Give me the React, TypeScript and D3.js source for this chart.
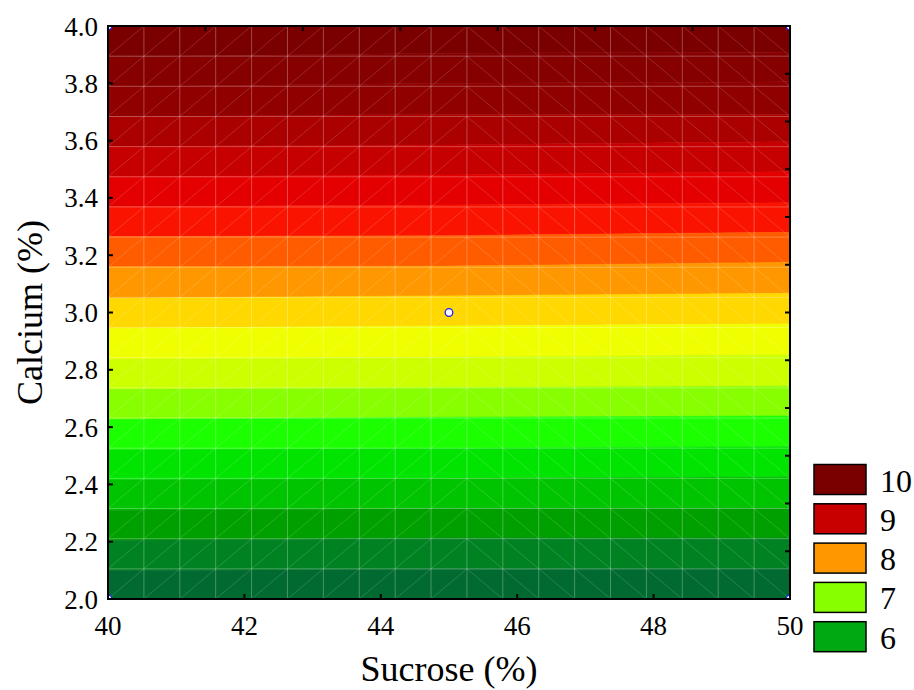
import { useEffect, useRef } from 'react';
import * as d3 from 'd3';

// sucrose positions where band edges were read (left edge, centre, right edge)
const sucroseStations = [40, 45, 50];

// contour band edges (calcium %), top to bottom, read at each station
const edgeAt40 = [3.893, 3.788, 3.683, 3.579, 3.474, 3.369, 3.265, 3.160, 3.050, 2.945, 2.837, 2.732, 2.627, 2.520, 2.415, 2.310, 2.205, 2.099];
const edgeAt45 = [3.905, 3.800, 3.692, 3.585, 3.480, 3.375, 3.268, 3.162, 3.058, 2.953, 2.844, 2.737, 2.634, 2.526, 2.421, 2.316, 2.212, 2.104];
const edgeAt50 = [3.909, 3.805, 3.692, 3.596, 3.491, 3.383, 3.280, 3.175, 3.067, 2.960, 2.852, 2.743, 2.639, 2.532, 2.427, 2.317, 2.212, 2.105];

// band fills, top band first
const bandColors = [
  '#7a0000', '#860000', '#900000', '#aa0000', '#c60000', '#e40000', '#fa1400',
  '#ff5c00', '#ff9800', '#ffd800', '#f0ff00', '#ccff00', '#88ff00', '#1cff00',
  '#00e400', '#00c400', '#00a000', '#008222', '#006a30'
];

const legendLabels = ['10', '9', '8', '7', '6'];
const legendColors = ['#7a0000', '#c80000', '#ff9800', '#88ff00', '#00a812'];

const sucroseTicks = [40, 42, 44, 46, 48, 50];
const calciumTicks = [2.0, 2.2, 2.4, 2.6, 2.8, 3.0, 3.2, 3.4, 3.6, 3.8, 4.0];

// design points
const pointSucrose = [40, 40, 50, 50, 45];
const pointCalcium = [2.0, 4.0, 4.0, 2.0, 3.0];

const App = () => {
  const svgRef = useRef<SVGSVGElement>(null);

  useEffect(() => {
    const root = d3.select(svgRef.current);
    root.selectAll('*').remove();

    const left = 108, right = 790, top = 26, bottom = 599;
    const x = d3.scaleLinear().domain([40, 50]).range([left, right]);
    const y = d3.scaleLinear().domain([2, 4]).range([bottom, top]);
    const font = '"Liberation Serif", "Times New Roman", serif';

    root.append('defs').append('clipPath').attr('id', 'plotClip')
      .append('rect')
      .attr('x', left).attr('y', top)
      .attr('width', right - left).attr('height', bottom - top);

    // band edges including the plot top and bottom
    const edges = [
      sucroseStations.map(() => 4),
      ...edgeAt40.map((_, i) => [edgeAt40[i], edgeAt45[i], edgeAt50[i]]),
      sucroseStations.map(() => 2)
    ];

    const area = d3.area<number>()
      .x(d => x(sucroseStations[d]));

    bandColors.forEach((c, i) => {
      root.append('path')
        .datum(d3.range(sucroseStations.length))
        .attr('d', area.y0(d => y(edges[i + 1][d])).y1(d => y(edges[i][d])))
        .attr('fill', c)
        .attr('stroke', c)
        .attr('stroke-width', 0.6);
    });

    // triangulated mesh overlay
    const cols = 19, rows = 19;
    const gx = d3.scaleLinear().domain([0, cols]).range([left, right]);
    const gy = d3.scaleLinear().domain([0, rows]).range([top, bottom]);
    const mesh = root.append('g').attr('stroke', '#ffffff').attr('fill', 'none');
    for (let i = 1; i < cols; i++) {
      mesh.append('line')
        .attr('x1', gx(i)).attr('x2', gx(i)).attr('y1', top).attr('y2', bottom)
        .attr('stroke-opacity', 0.28);
    }
    for (let j = 1; j < rows; j++) {
      mesh.append('line')
        .attr('x1', left).attr('x2', right).attr('y1', gy(j)).attr('y2', gy(j))
        .attr('stroke-opacity', 0.28);
    }
    for (let i = 0; i < cols; i++) {
      for (let j = 0; j < rows; j++) {
        const rising = i < 10;
        mesh.append('line')
          .attr('x1', gx(i)).attr('x2', gx(i + 1))
          .attr('y1', rising ? gy(j + 1) : gy(j))
          .attr('y2', rising ? gy(j) : gy(j + 1))
          .attr('stroke-opacity', 0.2)
          .attr('stroke-width', 0.8);
      }
    }

    // design points
    root.append('g')
      .attr('clip-path', 'url(#plotClip)')
      .selectAll('circle')
      .data(d3.range(pointSucrose.length))
      .enter()
      .append('circle')
      .attr('cx', i => x(pointSucrose[i]))
      .attr('cy', i => y(pointCalcium[i]))
      .attr('r', 3.8)
      .attr('fill', '#ffffff')
      .attr('stroke', '#2020ff')
      .attr('stroke-width', 1.3);

    // frame
    root.append('rect')
      .attr('x', left).attr('y', top)
      .attr('width', right - left).attr('height', bottom - top)
      .attr('fill', 'none')
      .attr('stroke', '#000')
      .attr('stroke-width', 2);

    const tickLen = 5;
    const ticks = root.append('g').attr('stroke', '#000').attr('stroke-width', 2);
    sucroseTicks.forEach(t => {
      ticks.append('line').attr('x1', x(t)).attr('x2', x(t)).attr('y1', bottom).attr('y2', bottom - tickLen);
    });
    calciumTicks.forEach(t => {
      ticks.append('line').attr('x1', left).attr('x2', left + tickLen).attr('y1', y(t)).attr('y2', y(t));
    });
    // secondary frame ticks (top: 7 divisions, right: 12 divisions)
    d3.range(1, 7).forEach(k => {
      const px = left + (right - left) * k / 7;
      ticks.append('line').attr('x1', px).attr('x2', px).attr('y1', top).attr('y2', top + tickLen);
    });
    d3.range(1, 12).forEach(k => {
      const py = top + (bottom - top) * k / 12;
      ticks.append('line').attr('x1', right).attr('x2', right - tickLen).attr('y1', py).attr('y2', py);
    });

    // tick labels
    root.selectAll('.xl')
      .data(sucroseTicks)
      .enter()
      .append('text')
      .attr('x', d => x(d))
      .attr('y', 635)
      .attr('text-anchor', 'middle')
      .attr('font-family', font)
      .attr('font-size', 27)
      .text(d => d3.format('d')(d));

    root.selectAll('.yl')
      .data(calciumTicks)
      .enter()
      .append('text')
      .attr('x', 98)
      .attr('y', d => y(d) + 9.5)
      .attr('text-anchor', 'end')
      .attr('font-family', font)
      .attr('font-size', 27)
      .text(d => d3.format('.1f')(d));

    // axis titles
    root.append('text')
      .attr('x', (left + right) / 2)
      .attr('y', 681)
      .attr('text-anchor', 'middle')
      .attr('font-family', font)
      .attr('font-size', 36)
      .text('Sucrose (%)');

    root.append('text')
      .attr('transform', `translate(42,${(top + bottom) / 2}) rotate(-90)`)
      .attr('text-anchor', 'middle')
      .attr('font-family', font)
      .attr('font-size', 36)
      .text('Calcium (%)');

    // legend
    const legend = root.append('g');
    legendLabels.forEach((lab, i) => {
      const ly = 464.5 + i * 39.3;
      legend.append('rect')
        .attr('x', 814).attr('y', ly)
        .attr('width', 52).attr('height', 30)
        .attr('fill', legendColors[i])
        .attr('stroke', '#000')
        .attr('stroke-width', 1.5);
      legend.append('text')
        .attr('x', 880).attr('y', ly + 27)
        .attr('font-family', font)
        .attr('font-size', 32)
        .text(lab);
    });
  }, []);

  return (
    <svg ref={svgRef} width={914} height={690} style={{ display: 'block', position: 'absolute', left: 0, top: 0 }} />
  );
};

export default App;
